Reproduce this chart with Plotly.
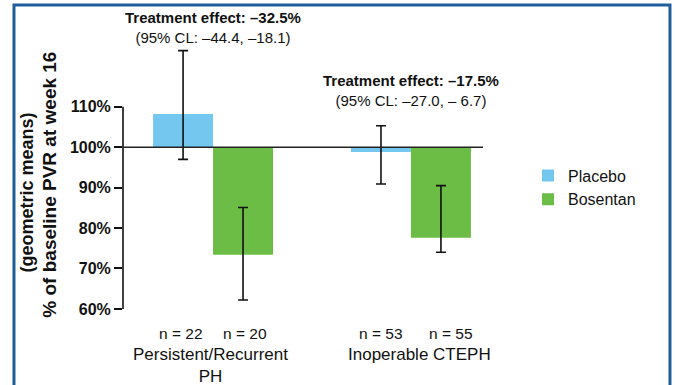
import plotly.graph_objects as go

# ---- data ----
categories = ["Persistent/Recurrent<br>PH", "Inoperable CTEPH"]
placebo_vals = [108.2, 98.8]
placebo_upper = [123.9, 105.3]
placebo_lower = [97.0, 90.9]
bosentan_vals = [73.4, 77.6]
bosentan_upper = [85.1, 90.5]
bosentan_lower = [62.2, 74.0]
placebo_n = ["n = 22", "n = 53"]
bosentan_n = ["n = 20", "n = 55"]
effect_labels = [
    "<b>Treatment effect: –32.5%</b><br>(95% CL: –44.4, –18.1)",
    "<b>Treatment effect: –17.5%</b><br>(95% CL: –27.0, – 6.7)",
]
tick_vals = [60, 70, 80, 90, 100, 110]
tick_text = ["60%", "70%", "80%", "90%", "100%", "110%"]
baseline = 100

FONT = "Liberation Sans, Arial, sans-serif"
BLUE = "#74C7EF"
GREEN = "#6CBD45"

fig = go.Figure()

def add_series(name, vals, upper, lower, color):
    fig.add_trace(go.Bar(
        name=name,
        x=categories,
        y=[v - baseline for v in vals],
        base=baseline,
        marker=dict(color=color, line=dict(width=0)),
        error_y=dict(
            type="data", symmetric=False,
            array=[u - v for u, v in zip(upper, vals)],
            arrayminus=[v - l for v, l in zip(vals, lower)],
            color="#111111", thickness=1.6, width=5,
        ),
    ))

add_series("Placebo", placebo_vals, placebo_upper, placebo_lower, BLUE)
add_series("Bosentan", bosentan_vals, bosentan_upper, bosentan_lower, GREEN)

annotations = []
# treatment effect labels
effect_y = [1.023, 0.802]
for cat, txt, yy in zip(categories, effect_labels, effect_y):
    annotations.append(dict(
        x=cat, xref="x", y=yy, yref="paper", text=txt, showarrow=False,
        font=dict(family=FONT, size=15, color="#111111"),
        xanchor="center", yanchor="middle", align="center",
    ))
# n labels
n_shifts = [(-32, 32), (-30, 40)]
for cat, pn, bn, (s1, s2) in zip(categories, placebo_n, bosentan_n, n_shifts):
    for t, s in ((pn, s1), (bn, s2)):
        annotations.append(dict(
            x=cat, xref="x", y=-0.06, yref="paper", text=t, showarrow=False,
            xshift=s, font=dict(family=FONT, size=15.5, color="#111111"),
            xanchor="center", yanchor="middle",
        ))
# category labels
cat_shifts = [-3, 9]
for cat, s in zip(categories, cat_shifts):
    annotations.append(dict(
        x=cat, xref="x", y=-0.093, yref="paper", text=cat, showarrow=False,
        xshift=s, font=dict(family=FONT, size=17, color="#111111"),
        xanchor="center", yanchor="top", align="center",
    ))
# y-axis titles
annotations.append(dict(
    x=-0.204, xref="paper", y=0.466, yref="paper",
    text="<b>% of baseline PVR at week 16</b>", showarrow=False, textangle=-90,
    font=dict(family=FONT, size=19, color="#111111"),
    xanchor="center", yanchor="middle",
))
annotations.append(dict(
    x=-0.264, xref="paper", y=0.44, yref="paper",
    text="<b>(geometric means)</b>", showarrow=False, textangle=-90,
    font=dict(family=FONT, size=18, color="#111111"),
    xanchor="center", yanchor="middle",
))

shapes = [
    # y axis line (60%..110%)
    dict(type="line", xref="paper", yref="y", x0=0, x1=0, y0=tick_vals[0], y1=tick_vals[-1],
         line=dict(color="#111111", width=1.6), layer="above"),
    # 100% baseline
    dict(type="line", xref="paper", yref="y", x0=0, x1=1, y0=baseline, y1=baseline,
         line=dict(color="#222222", width=1.6), layer="above"),
    # blue frame
    dict(type="rect", xref="paper", yref="paper", x0=-0.3028, x1=1.5194, y0=-0.30, y1=1.1025,
         line=dict(color="#1F5E9E", width=3), fillcolor="rgba(0,0,0,0)", layer="above"),
]

fig.update_layout(
    width=675, height=385,
    margin=dict(l=123, r=192, t=34, b=68),
    paper_bgcolor="white", plot_bgcolor="white",
    barmode="group", bargap=0.394, bargroupgap=0,
    showlegend=True,
    legend=dict(
        x=1.125, y=0.56, xanchor="left", yanchor="top",
        font=dict(family=FONT, size=16, color="#111111"),
        itemwidth=30, tracegroupgap=4, bgcolor="rgba(0,0,0,0)",
    ),
    xaxis=dict(range=[-0.455, 1.364], showticklabels=False, showline=False,
               showgrid=False, zeroline=False, ticks=""),
    yaxis=dict(range=[58, 128], tickvals=tick_vals, ticktext=tick_text,
               ticks="outside", ticklen=8, tickwidth=1.6, tickcolor="#111111",
               showline=False, showgrid=False, zeroline=False,
               tickfont=dict(family=FONT, size=16, color="#111111", weight="bold")),
    annotations=annotations,
    shapes=shapes,
    font=dict(family=FONT),
)

fig.write_html(
    "out.html",
    config={"displayModeBar": False},
    post_script="document.body.style.margin='0';document.body.style.overflow='hidden';",
)
